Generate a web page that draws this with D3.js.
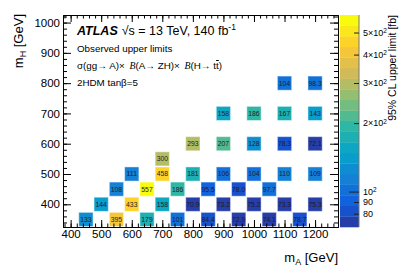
<!DOCTYPE html>
<html>
<head>
<meta charset="utf-8">
<script src="https://cdn.jsdelivr.net/npm/d3@7"></script>
<style>
  body { margin: 0; background: #fff; }
  svg { display: block; font-family: "Liberation Sans", Arial, sans-serif; }
</style>
</head>
<body>
<div id="chart"></div>
<script>
// observed limits, one entry per (mA, mH) bin
const mA = [450, 550, 650, 750, 850, 950, 1050, 1150,
            500, 600, 700, 800, 900, 1000, 1100, 1200,
            550, 650, 750, 850, 950, 1050,
            600, 700, 800, 900, 1000, 1100, 1200,
            700,
            800, 900, 1000, 1100, 1200,
            900, 1000, 1100, 1200,
            1100, 1200];
const mH = [350, 350, 350, 350, 350, 350, 350, 350,
            400, 400, 400, 400, 400, 400, 400, 400,
            450, 450, 450, 450, 450, 450,
            500, 500, 500, 500, 500, 500, 500,
            550,
            600, 600, 600, 600, 600,
            700, 700, 700, 700,
            800, 800];
const limit = [133, 395, 179, 101, 84.4, 72.9, 74.1, 78.7,
               144, 433, 158, 70.9, 73.2, 75.2, 73.3, 75.3,
               108, 557, 186, 95.5, 78.0, 97.7,
               111, 458, 181, 106, 104, 110, 109,
               300,
               293, 207, 128, 78.3, 72.1,
               158, 186, 167, 143,
               104, 98.3];

const xTicks = [400, 500, 600, 700, 800, 900, 1000, 1100, 1200];
const yTicks = [400, 500, 600, 700, 800, 900, 1000];
const zTicks = [80, 90, 100, 200, 300, 400, 500];
const zLabels = ["80", "90", "10²", "2×10²", "3×10²", "4×10²", "5×10²"];

const binW = 50, binH = 50, nBands = 20;

const width = 399, height = 271;
const padL = 63, padR = 338, padT = 15, padB = 227;

const svg = d3.select("#chart").append("svg")
  .attr("width", width)
  .attr("height", height);

const x = d3.scaleLinear().domain([375, 1275]).range([padL, padR]);
const y = d3.scaleLinear().domain([325, 1025]).range([padB, padT]);
const z = d3.scaleLog().domain([69.9, 597]).range([padB, padT]);

// ROOT kBird palette
const stops = [0, 0.125, 0.25, 0.375, 0.5, 0.625, 0.75, 0.875, 1];
const red = [0.2082, 0.0592, 0.0780, 0.0232, 0.1802, 0.5301, 0.8186, 0.9956, 0.9764];
const green = [0.1664, 0.3599, 0.5041, 0.6419, 0.7178, 0.7492, 0.7328, 0.7862, 0.9832];
const blue = [0.5293, 0.8684, 0.8385, 0.7914, 0.6425, 0.4662, 0.3499, 0.1968, 0.0539];
const bird = d3.scaleLinear().domain(stops)
  .range(stops.map((s, i) => d3.rgb(red[i] * 255, green[i] * 255, blue[i] * 255)));

function bandOf(v) {
  const [lo, hi] = z.domain().map(Math.log10);
  const k = Math.floor((Math.log10(v) - lo) / (hi - lo) * nBands);
  return Math.max(0, Math.min(nBands - 1, k));
}
function bandColor(k) {
  const t = Math.min(1, Math.floor((k + 0.99) * 255 / nBands) / 254);
  return bird(t);
}

const cells = limit.map((v, i) => ({ a: mA[i], h: mH[i], v }));
const fmt = d3.format(".3r");

// cells
const cell = svg.append("g").selectAll("g")
  .data(cells)
  .enter()
  .append("g");

cell.append("rect")
  .attr("x", (d) => x(d.a - binW / 2) + 0.5)
  .attr("y", (d) => y(d.h + binH / 2) + 0.5)
  .attr("width", (d) => x(d.a + binW / 2) - x(d.a - binW / 2) - 1)
  .attr("height", (d) => y(d.h - binH / 2) - y(d.h + binH / 2) - 1)
  .attr("fill", (d) => bandColor(bandOf(d.v)))
  .attr("stroke", "rgba(255,255,255,0.45)")
  .attr("stroke-width", 1);

cell.append("text")
  .attr("x", (d) => x(d.a))
  .attr("y", (d) => y(d.h))
  .attr("dy", "0.35em")
  .attr("text-anchor", "middle")
  .attr("font-size", "6.8px")
  .attr("fill", "#1c1c28")
  .text((d) => fmt(d.v));

// frame + ticks (inward, on all four sides)
const minorX = d3.range(380, 1275, 20);
const minorY = d3.range(340, 1025, 20);
const intFmt = d3.format("d");

function tickLayer(axis, tx, ty) {
  const g = svg.append("g").attr("transform", `translate(${tx},${ty})`).call(axis);
  g.select(".domain").attr("stroke", "#000");
  g.selectAll(".tick line").attr("stroke", "#000");
  return g;
}

const xb = tickLayer(d3.axisBottom(x).tickValues(xTicks).tickFormat(intFmt)
  .tickSizeInner(-7).tickSizeOuter(0).tickPadding(3), 0, padB);
xb.selectAll("text").attr("font-size", "11.5px").attr("fill", "#000").attr("font-family", null);
tickLayer(d3.axisBottom(x).tickValues(minorX).tickSizeInner(-3.5).tickSizeOuter(0).tickFormat(""), 0, padB);
tickLayer(d3.axisTop(x).tickValues(xTicks).tickSizeInner(-7).tickSizeOuter(0).tickFormat(""), 0, padT);
tickLayer(d3.axisTop(x).tickValues(minorX).tickSizeInner(-3.5).tickSizeOuter(0).tickFormat(""), 0, padT);

const yl = tickLayer(d3.axisLeft(y).tickValues(yTicks).tickFormat(intFmt)
  .tickSizeInner(-8).tickSizeOuter(0).tickPadding(3), padL, 0);
yl.selectAll("text").attr("font-size", "11.5px").attr("fill", "#000").attr("font-family", null);
tickLayer(d3.axisLeft(y).tickValues(minorY).tickSizeInner(-4).tickSizeOuter(0).tickFormat(""), padL, 0);
tickLayer(d3.axisRight(y).tickValues(yTicks).tickSizeInner(-8).tickSizeOuter(0).tickFormat(""), padR, 0);
tickLayer(d3.axisRight(y).tickValues(minorY).tickSizeInner(-4).tickSizeOuter(0).tickFormat(""), padR, 0);

svg.selectAll(".domain").attr("stroke-width", 1);

// colour bar
const barX = 340, barW = 19;
const [zlo, zhi] = z.domain().map(Math.log10);
const bands = d3.range(nBands).map((k) => ({
  k,
  lo: Math.pow(10, zlo + (zhi - zlo) * k / nBands),
  hi: Math.pow(10, zlo + (zhi - zlo) * (k + 1) / nBands),
}));

svg.append("g").selectAll("rect")
  .data(bands)
  .enter()
  .append("rect")
  .attr("x", barX)
  .attr("y", (d) => z(d.hi))
  .attr("width", barW)
  .attr("height", (d) => z(d.lo) - z(d.hi) + 0.3)
  .attr("fill", (d) => bandColor(d.k));

svg.append("line")
  .attr("x1", barX + barW).attr("x2", barX + barW)
  .attr("y1", padT).attr("y2", padB)
  .attr("stroke", "#777").attr("stroke-width", 1);

const zAxis = svg.append("g")
  .attr("transform", `translate(${barX + barW},0)`)
  .call(d3.axisRight(z).tickValues(zTicks)
    .tickSizeInner(-5).tickSizeOuter(0).tickPadding(4)
    .tickFormat(() => ""));
zAxis.select(".domain").remove();
zAxis.selectAll(".tick line")
  .attr("stroke", "#222")
  .attr("x2", (d) => (d === 100 ? -10 : -5));

zAxis.selectAll(".tick text")
  .attr("font-size", "9px")
  .attr("fill", "#000")
  .attr("font-family", null)
  .each(function (d, i) {
    const t = d3.select(this);
    const lab = zLabels[i];
    const hat = lab.indexOf("²");
    if (hat < 0) {
      t.text(lab);
    } else {
      t.append("tspan").text(lab.slice(0, hat));
      t.append("tspan").attr("dy", "-0.4em").attr("font-size", "6.5px").text("2");
    }
  });

// axis titles
svg.append("text")
  .attr("transform", "translate(23,14) rotate(-90)")
  .attr("text-anchor", "end")
  .attr("font-size", "13px")
  .call((t) => {
    t.append("tspan").text("m");
    t.append("tspan").attr("dy", "3").attr("font-size", "9px").text("H");
    t.append("tspan").attr("dy", "-3").text(" [GeV]");
  });

svg.append("text")
  .attr("x", padR)
  .attr("y", 262)
  .attr("text-anchor", "end")
  .attr("font-size", "13px")
  .call((t) => {
    t.append("tspan").text("m");
    t.append("tspan").attr("dy", "3").attr("font-size", "9px").text("A");
    t.append("tspan").attr("dy", "-3").text(" [GeV]");
  });

svg.append("text")
  .attr("transform", "translate(396,15) rotate(-90)")
  .attr("text-anchor", "end")
  .attr("font-size", "10.5px")
  .text("95% CL upper limit [fb]");

// ATLAS label block
const atlas = svg.append("text").attr("x", 77).attr("y", 35).attr("font-size", "12.5px");
atlas.append("tspan").attr("font-weight", "bold").attr("font-style", "italic").text("ATLAS");
atlas.append("tspan").attr("dx", "4").text("√s = 13 TeV, 140 fb");
atlas.append("tspan").attr("dy", "-5").attr("font-size", "8.5px").text("-1");

svg.append("text").attr("x", 77).attr("y", 52).attr("font-size", "9.8px")
  .text("Observed upper limits");

const proc = svg.append("text").attr("x", 77).attr("y", 69).attr("font-size", "9.8px");
proc.append("tspan").text("σ(gg→ A)×  ");
proc.append("tspan").attr("dx", "2").attr("font-style", "italic").attr("font-family", "Liberation Serif, serif").text("B");
proc.append("tspan").text("(A→ ZH)×  ");
proc.append("tspan").attr("dx", "2").attr("font-style", "italic").attr("font-family", "Liberation Serif, serif").text("B");
proc.append("tspan").text("(H→ t");
proc.append("tspan").attr("text-decoration", "overline").text("t");
proc.append("tspan").text(")");

svg.append("text").attr("x", 77).attr("y", 86).attr("font-size", "9.8px")
  .text("2HDM tanβ=5");
</script>
</body>
</html>
